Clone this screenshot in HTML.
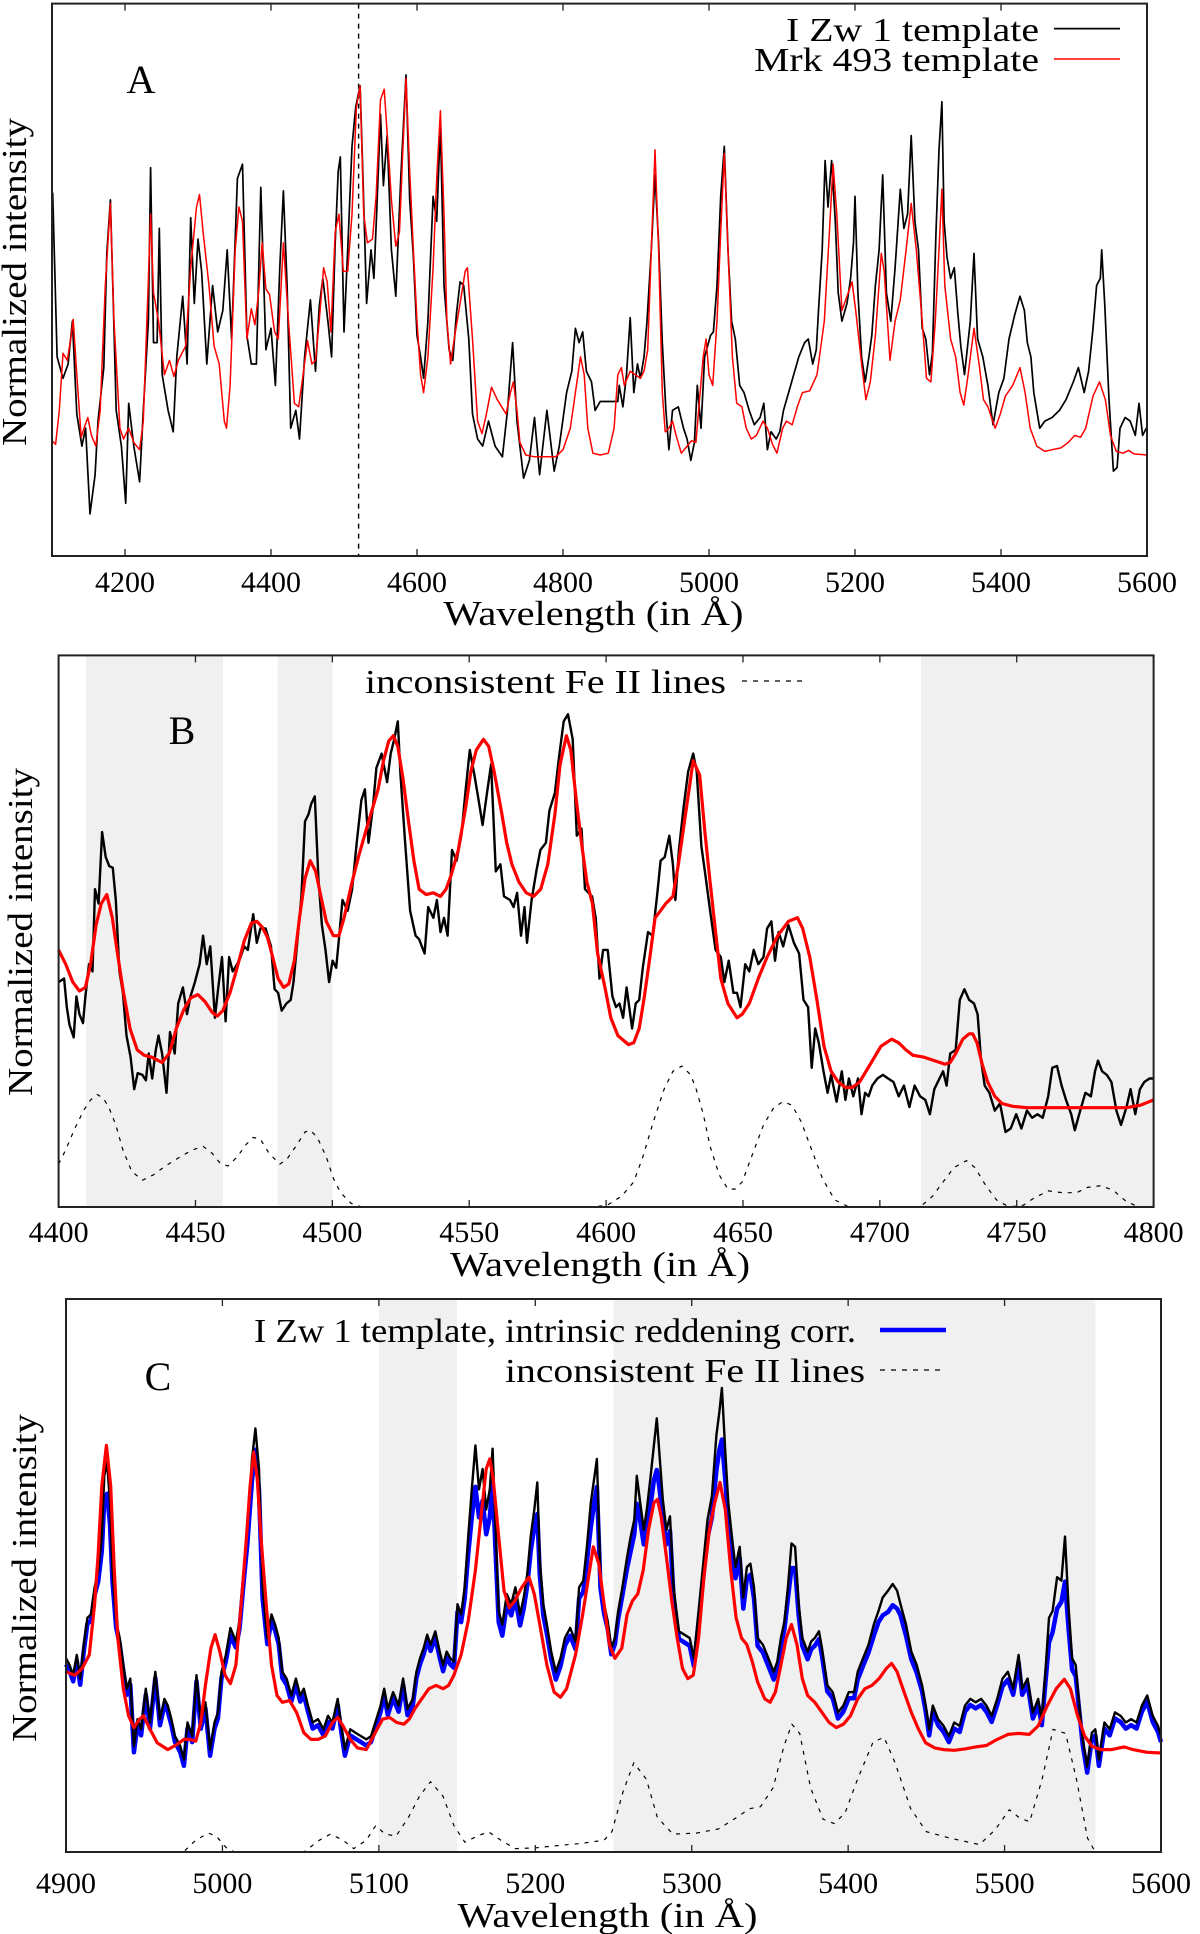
<!DOCTYPE html>
<html><head><meta charset="utf-8"><style>
html,body{margin:0;padding:0;background:#fff}
svg{display:block}
text{font-family:"Liberation Serif","DejaVu Serif",serif;fill:#000}
</style></head><body>
<svg id="fig" width="1200" height="1934" viewBox="0 0 1200 1934" xmlns="http://www.w3.org/2000/svg">
<g id="panelA"></g>
<g id="panelB"></g>
<g id="panelC"></g>
</svg>
<script>
// ---------- Panel A data ----------
const aTicks=[4200,4400,4600,4800,5000,5200,5400,5600];
const aIzwWl=[4101,4107,4115,4122,4128,4134,4141,4146,4152,4159,4163,4171,4175,4180,4184,4188,4195,4201,4205,4212,4220,4225,4232,4235,4239,4244,4247,4251,4259,4266,4271,4279,4285,4290,4295,4300,4305,4312,4320,4327,4334,4340,4346,4354,4361,4367,4373,4380,4386,4393,4400,4406,4412,4417,4422,4427,4434,4439,4446,4454,4461,4466,4471,4478,4483,4488,4492,4495,4500,4505,4511,4516,4522,4526,4531,4537,4541,4545,4550,4554,4559,4565,4571,4578,4585,4590,4595,4600,4605,4609,4615,4622,4627,4632,4637,4644,4649,4654,4659,4664,4671,4676,4683,4690,4698,4707,4717,4724,4731,4737,4746,4754,4761,4768,4778,4788,4795,4805,4812,4817,4822,4827,4832,4839,4844,4851,4875,4877,4882,4887,4892,4897,4902,4906,4911,4915,4921,4926,4931,4936,4941,4945,4950,4958,4965,4970,4975,4980,4984,4989,4994,5002,5006,5011,5016,5021,5026,5031,5036,5042,5048,5055,5062,5070,5075,5080,5085,5092,5097,5102,5109,5116,5123,5131,5136,5142,5147,5150,5155,5159,5163,5168,5173,5177,5182,5189,5194,5198,5200,5204,5209,5214,5219,5223,5228,5233,5238,5243,5249,5255,5262,5267,5272,5277,5282,5287,5292,5297,5302,5306,5311,5315,5319,5322,5326,5331,5336,5341,5345,5350,5358,5363,5368,5375,5382,5389,5397,5404,5411,5419,5426,5432,5436,5441,5445,5453,5460,5470,5480,5489,5499,5506,5514,5520,5526,5531,5536,5538,5542,5548,5554,5559,5563,5570,5577,5584,5589,5594,5599];
const aIzwFlux=[101.8,55.8,49.8,53.8,65.8,39.8,30.8,35.8,11.8,22.8,37.8,52.8,84.8,99.8,70.8,40.8,30.8,14.8,42.8,30.8,20.8,40.8,65.8,108.8,59.8,59.8,91.8,50.8,40.8,34.8,55.8,72.8,53.8,94.8,70.8,88.8,79.8,53.8,75.8,62.8,68.8,85.8,60.8,105.8,109.8,61.8,53.8,53.8,103.3,57.8,63.8,47.8,80.8,102.3,75.8,35.8,40.8,32.8,55.8,71.8,51.8,69.8,77.8,65.8,55.8,87.8,107.8,111.8,62.8,85.8,114.8,125.8,131.8,105.8,70.8,85.8,77.8,97.8,123.8,103.8,117.8,85.8,72.8,106.8,134.8,99.8,83.8,61.8,55.8,49.8,65.8,100.8,93.8,120.8,75.8,57.8,54.8,67.8,76.8,75.8,60.8,39.8,32.8,30.8,37.8,30.8,27.8,40.8,59.8,37.8,21.8,26.8,38.8,22.8,40.8,23.8,30.8,45.8,51.8,63.8,59.8,62.8,51.8,48.8,40.8,43.3,43.3,47.8,41.8,50.8,66.8,45.8,53.8,49.8,55.8,65.8,85.8,106.8,87.8,59.8,40.8,29.8,40.8,41.8,35.8,32.8,26.8,31.8,47.8,35.8,55.8,61.8,62.8,75.8,100.8,114.8,85.8,65.8,60.8,47.8,45.8,40.8,36.8,38.8,42.8,29.8,34.8,32.8,34.8,40.8,45.8,50.8,55.8,59.8,60.8,53.8,57.8,68.8,85.8,110.8,97.8,110.8,93.8,73.8,65.8,70.8,77.8,87.8,100.8,73.8,55.8,48.8,55.8,61.8,75.8,85.8,106.8,73.8,65.8,80.8,102.8,91.8,95.8,117.8,93.8,85.8,63.8,60.8,50.8,56.8,90.8,113.8,127.3,93.8,83.8,77.8,80.8,67.8,58.8,50.8,65.8,84.8,60.8,55.8,47.8,36.8,45.8,49.8,60.8,67.8,72.8,68.8,59.8,55.8,45.8,35.8,37.8,38.8,40.8,43.8,48.8,52.8,45.8,51.8,63.8,75.8,77.8,85.8,70.8,43.8,23.8,24.8,35.8,38.8,37.8,33.8,42.8,33.8,35.8];
const aMrkWl=[4100,4105,4110,4115,4121,4127,4129,4134,4140,4144,4149,4154,4160,4166,4173,4180,4185,4193,4198,4205,4212,4220,4225,4230,4235,4239,4246,4254,4261,4267,4273,4283,4290,4298,4302,4307,4315,4322,4329,4336,4339,4344,4351,4356,4361,4367,4373,4378,4383,4388,4393,4398,4405,4410,4417,4424,4432,4438,4444,4450,4456,4461,4466,4472,4477,4482,4488,4493,4499,4505,4511,4517,4522,4527,4532,4539,4544,4550,4555,4560,4565,4571,4576,4580,4585,4590,4595,4600,4605,4609,4615,4622,4627,4632,4637,4641,4646,4651,4659,4666,4669,4676,4683,4689,4695,4702,4710,4722,4728,4732,4737,4741,4749,4761,4790,4800,4810,4817,4824,4829,4834,4841,4851,4862,4870,4875,4880,4884,4892,4899,4906,4911,4916,4921,4926,4931,4936,4940,4945,4950,4955,4962,4970,4976,4982,4987,4992,4996,5000,5005,5011,5016,5021,5026,5032,5038,5045,5051,5058,5065,5074,5080,5087,5093,5101,5106,5114,5121,5128,5138,5148,5158,5165,5170,5175,5182,5189,5196,5201,5209,5215,5221,5228,5236,5240,5248,5255,5262,5270,5277,5284,5292,5298,5304,5310,5315,5319,5323,5331,5338,5344,5349,5355,5363,5370,5376,5382,5387,5392,5399,5406,5416,5426,5433,5440,5449,5460,5470,5482,5492,5501,5509,5516,5526,5535,5543,5550,5558,5567,5575,5582,5599];
const aMrkFlux=[32.3,31.3,40.8,56.8,54.8,62.8,66.3,50.8,33.3,35.8,38.8,33.8,30.8,40.8,75.8,98.8,65.8,35.8,32.8,35.8,31.8,29.8,37.8,65.8,95.8,73.8,65.8,50.8,54.8,50.3,54.8,58.8,80.8,97.8,101.3,90.8,75.8,58.8,53.8,37.8,35.8,47.8,85.8,97.8,93.8,60.8,69.3,64.8,73.8,87.8,74.8,73.3,62.8,60.8,87.8,65.8,42.8,41.8,50.8,60.3,53.8,54.8,65.8,80.8,76.8,62.8,90.8,95.8,79.8,79.8,95.8,125.8,131.8,95.8,87.8,88.8,100.8,127.8,130.8,115.8,99.8,86.8,90.8,110.8,133.8,107.8,85.8,65.8,50.8,45.8,55.8,80.8,105.8,124.8,95.8,65.8,53.8,60.8,70.8,79.8,80.8,60.8,37.8,34.3,39.8,47.3,43.8,39.8,45.8,48.8,40.8,31.8,28.3,27.8,27.8,29.8,35.8,45.8,55.8,50.8,35.8,28.8,28.3,28.8,35.8,50.8,52.8,47.8,51.8,50.8,49.8,51.8,57.8,85.8,113.8,85.8,45.8,34.8,35.8,37.8,33.8,28.8,30.8,32.3,31.8,43.8,55.8,60.8,50.8,47.8,65.8,90.8,112.8,85.8,55.8,42.8,41.8,35.8,32.8,33.8,37.8,35.8,31.3,28.8,35.8,37.8,36.8,41.8,45.8,46.3,50.8,65.8,90.8,109.8,95.8,68.8,72.8,76.8,68.8,53.8,43.8,48.8,61.8,84.8,79.8,54.8,65.8,71.8,85.8,98.8,85.8,65.8,49.8,48.8,65.8,85.8,102.8,75.8,60.8,55.8,45.8,42.3,50.8,63.8,53.8,43.8,41.8,38.8,35.8,39.8,44.8,47.8,52.8,45.8,35.8,30.8,29.3,29.8,30.3,31.8,33.8,33.3,35.8,44.8,48.8,43.8,33.8,29.3,28.8,29.6,28.6,28.3];

// ---------- Panel B data ----------
const bTicks=[4400,4450,4500,4550,4600,4650,4700,4750,4800];
const bBands=[[4410,4460],[4480,4500],[4715,4800]];
const bIzwWl=[4400,4402,4403,4404,4405.5,4406.5,4407.6,4408.9,4409.8,4411.1,4412.4,4413.3,4414.6,4415.9,4417.2,4418.5,4419.8,4420.9,4422.2,4423.5,4424.8,4426.3,4427.6,4428.9,4430.6,4431.9,4432.9,4434.2,4435.5,4436.5,4437.8,4439.4,4440.7,4442.4,4443.7,4445.4,4446.9,4448.2,4449.8,4451.5,4452.8,4454.1,4455.4,4457.1,4458.4,4459.7,4461,4462.3,4463.6,4465.2,4466.5,4467.8,4469.1,4471.1,4472.4,4473.7,4475.6,4477.6,4478.9,4480.2,4481.5,4483.2,4484.8,4485.8,4487.4,4488.7,4490,4491.3,4492.3,4493.6,4494.9,4496.2,4497.5,4498.8,4500.1,4501.4,4502.4,4503.7,4505.6,4507.2,4508.9,4510.6,4511.9,4513.2,4514.8,4516.1,4518,4520,4521.3,4522.6,4523.9,4524.9,4526.5,4528.4,4530.4,4531.7,4533.7,4535,4536.9,4538.2,4539.5,4540.8,4542.1,4543.7,4545.4,4547.1,4548.7,4550.2,4551.9,4553.2,4554.9,4556.5,4558,4559.7,4561.4,4562.7,4564.9,4566.2,4567.5,4568.9,4570.2,4571.1,4572.8,4574.5,4576,4578,4579.3,4581.3,4582.8,4584.5,4586.1,4587.8,4589.3,4591,4592.3,4593.6,4594.9,4596.2,4597.6,4598.9,4600.6,4602.3,4603.6,4604.9,4606.2,4607.5,4609.5,4610.8,4612.1,4613.4,4615.3,4617,4618.6,4619.9,4621.4,4623.1,4624.4,4625.3,4626.6,4628.3,4630,4631.8,4633.1,4634.8,4636.1,4638,4640,4641.9,4643.2,4644.8,4646.5,4647.8,4649.1,4650.8,4652.3,4653.9,4655.6,4657.5,4658.8,4660.4,4661.7,4663,4664.7,4666.6,4668.6,4670.5,4672.1,4673.8,4675.1,4676.4,4677.7,4679.4,4680.9,4682.2,4684.2,4686.1,4687.4,4688.7,4690.3,4692,4693.3,4694.6,4695.9,4697.2,4699.1,4701.1,4703,4705,4706.9,4708.8,4710.8,4712.7,4714.7,4716.6,4718.3,4719.9,4721.8,4723.1,4724.4,4725.7,4727.7,4729.2,4730.9,4732.6,4734.4,4735.7,4737,4738.3,4740,4742,4743.9,4745.9,4747.8,4749.8,4751.7,4753.7,4755.6,4757.6,4759.5,4761.5,4763,4764.7,4766.4,4768,4769.9,4771.2,4773.2,4775.1,4777.1,4778.6,4779.7,4781.2,4782.9,4784.6,4786.4,4788.1,4790.1,4791.6,4793.3,4795,4796.6,4798.5,4800];
const bIzwFlux=[63,64,56,51,47.5,59,54,51.5,59,68,66,89,85,105,98,95.5,95,86,66,60,48,42,33,37.5,37,35.5,43,36,44,48,43,32,49,43,57,61.5,54,59,63,68,76,68,73,53,62,70,52,70,66,68,70,73,72,82,74,78,78,73,61,60,55,57,58,63,76,87,108,110,113,115,92,79,72,63,69,67,75,86,83,89,102,114,117,102,112,123,127,119,127,131,136,121,103,83,76,75,71,84,81,86,77,81,76,100,97,104,117,128,121,115,107,116,124,94,96,87,86,84,88,76,84,74,86,94,100,102,111,116,126,136,138,131,104,106,89,88,87,81,64,72,72,59,56,57,53,61.5,50,57,58,67,77,76,87,97,98,104,96,86,100,112,122,127,122,101,94,83,72,70,63,69,60,60,56,68,66,72,68,70,78,80,69,77,73,79,74,71,58,56,39,50,46,38,32,37,29.5,38,30,36,31,36,26,32,31,34,36,37,36,35,31,34,28,34,31,30,26,33,36,38,34,43,44,58,61,58,57,54,41,34,32,27,29,21,22,26,22,27,25,26,25,31,39,39.5,34,30,26,21.5,27,32,31,38,41,38,37,35,27,23,28,33,26,33,35,36,36];
const bMrkWl=[4400,4402.6,4405.2,4407.6,4409.8,4411.7,4413.7,4415.6,4417.6,4419.6,4421.5,4423.5,4426.1,4428.7,4431.3,4433.9,4437.8,4440.4,4443,4445.6,4448.2,4450.9,4453.5,4456.1,4458,4460,4462.6,4465.2,4467.8,4470.4,4472.4,4474.3,4476.3,4478.2,4480.2,4482.2,4484.1,4486.1,4488,4490,4491.9,4493.9,4495.8,4497.8,4500.4,4502.4,4504.3,4506.9,4509.5,4512.1,4514.8,4516.7,4518.7,4520.6,4522.3,4523.9,4525.8,4527.8,4529.8,4531.7,4534.3,4536.9,4539.5,4541.5,4543.4,4546,4548.7,4550.6,4552.6,4555.2,4557.1,4559.1,4561.7,4563.7,4565.6,4568.2,4570.8,4573.5,4576.1,4578.7,4581.3,4583.2,4585.5,4587.1,4589.1,4591,4593,4595,4596.9,4599.7,4601.7,4604.3,4608.2,4610.1,4612.1,4614,4616,4617.9,4619.9,4621.8,4624.4,4626.4,4629,4631.8,4634.2,4636.1,4638,4640,4641.9,4644.5,4647.8,4649.7,4652.3,4655.6,4658.8,4662.7,4666.6,4669.9,4671.8,4674.4,4677,4679.6,4682.2,4684.8,4687.4,4690,4692.6,4696.5,4700.4,4704.3,4706.9,4709.5,4712.1,4716,4719.9,4723.8,4725.7,4727.7,4730.3,4732.6,4733.9,4735.5,4737.4,4739.4,4742,4744.6,4748.5,4753.7,4790,4795.2,4800];
const bMrkFlux=[72,68,63,60.5,61.5,68,79,85,87.5,81,71,61,50,44,42.5,42,40.5,43,50,55,58.5,59.5,57.5,54.5,53.5,55,60,67,74.5,79.5,80,78.5,75.5,70,64,61.5,62.5,69,81,92,97,94,87,80,76,76,81,90,98,105,112,117,125,130.5,132,129,120,108,97,89,87.5,88,87,89,93,100,112,122,128,131,129,122,111,102,96,91,88,87,89,96,110,124,132,128,114,102,91,85,71,61,53,48,45.5,46,50,59,70,81,83,85,87,96,110,125,121,105,91,77,64,57,53,54,57,64,70,76,80,81,78,70,58,45,38,35,33.5,33.5,35,40,45,47,46,44,42.5,42,41,40,40.5,43,47,48.5,48.5,46,40,35,31,29,28.2,27.8,27.8,28.5,30];
const bFeWl=[4400,4402.6,4405.9,4409.1,4411.7,4414.1,4416.3,4418.3,4420.9,4423.5,4426.7,4430.6,4434.6,4439.1,4444.3,4448.9,4452.8,4456.1,4459.3,4461.9,4465.2,4468.5,4471.1,4473.7,4476.9,4480.8,4483.5,4486.7,4490,4491.9,4494.5,4497.8,4500.4,4503,4506.9,4510.8,4595,4600.4,4605.6,4610.1,4613.4,4617.3,4621.2,4624.4,4627.7,4630.9,4632.9,4635.5,4638,4641.3,4644.5,4647.1,4649.7,4653.6,4657.5,4661.4,4664.7,4667.9,4671.2,4675.1,4679,4683.5,4688.7,4714.7,4719.2,4723.1,4727,4731.6,4734.8,4738.7,4742.6,4747.2,4752.4,4756.3,4761.5,4766.7,4771.9,4775.8,4781,4785.5,4790.1,4794.6,4800];
const bFeFlux=[12,16,22,27,30,31.5,30.5,28,23,16,10,7.5,9,11.5,14,16,17,15,12,11.5,14,17.5,19.5,19,15,12,13.5,17,21,21.5,19.5,14,8,4,1,0,0,0.5,3,7,14,24,33,38,39.5,37,33,26,17,9,5,5,7,15,23,28,29.5,28.5,24,16,8,2,0,0,3,7,11,13,11,6,2,0,0.5,2.5,4.5,4,4,5.5,6,4.5,1.5,0,0];

// ---------- Panel C data ----------
const cTicks=[4900,5000,5100,5200,5300,5400,5500,5600];
const cBands=[[5100,5150],[5250,5558]];
const cIzwWl=[4900,4902.3,4904.6,4906.9,4909.1,4911.4,4913.7,4916,4918.3,4920.6,4922.9,4924.5,4926.3,4928.1,4929.7,4932,4934.3,4936.6,4938.9,4941.1,4943.4,4945.7,4948,4951,4953.7,4957.1,4960.1,4962.9,4965.1,4967.4,4969.7,4973.1,4975.4,4977.7,4980.7,4983.4,4986.2,4989.1,4992.1,4994.9,4997.1,4999.4,5002.2,5005.1,5008.6,5010.9,5013.6,5015.9,5018.9,5021.1,5023.4,5025.7,5028.7,5031.4,5033.7,5036,5038.3,5041,5044,5047,5049.7,5052,5054.7,5057.7,5061.1,5064.6,5067.5,5070.3,5073.7,5076,5078.3,5081.7,5085.1,5088.6,5092,5095,5097.7,5101.1,5103.4,5105.7,5109.1,5112.6,5115.5,5118.3,5121.7,5124,5126.3,5128.6,5130.9,5133.1,5136.1,5138.9,5141.1,5143.4,5145.7,5148,5150.3,5152.6,5154.9,5157.1,5159.4,5161.7,5164,5166.3,5168.6,5170.9,5172.7,5174.3,5176.6,5178.9,5181.8,5184.6,5187.3,5190.3,5192.6,5194.9,5197.1,5199.4,5201.3,5202.9,5205.1,5207.4,5210.2,5213.1,5216.1,5218.9,5222.3,5225.7,5228,5230.7,5233,5235.5,5237.6,5239.4,5241.7,5244,5246.3,5248.6,5250.9,5253,5255.7,5258.7,5261,5263.3,5264.9,5267.1,5269.4,5271.3,5273.5,5275.8,5277.7,5279.3,5281.5,5283.8,5286.1,5288.4,5291.8,5295.3,5298.7,5301.4,5304.4,5307.8,5310.1,5312.9,5315.8,5317.7,5319.3,5321.5,5323.4,5325.7,5328,5330.7,5333,5335.3,5337.5,5339.8,5342.1,5345.5,5349,5352.4,5354.7,5357,5359.3,5361.5,5363.8,5366.1,5368.4,5370.7,5374.1,5376.4,5378.7,5381.4,5383.3,5386.7,5390.1,5393.5,5397,5400.4,5403.8,5406.1,5409.5,5413,5416.4,5419.4,5422.1,5425.5,5428.5,5431.3,5433.5,5437,5440.4,5443.8,5447.3,5449.6,5451.8,5454.1,5457.5,5461,5464.4,5467.8,5471.3,5474.7,5478.1,5481.5,5485,5488.4,5491.8,5495.3,5498.7,5502.1,5505.5,5509,5511.3,5514.7,5518.1,5521.5,5523.8,5526.1,5528.4,5530.7,5533.6,5536.3,5538.6,5540.9,5543.2,5545.5,5547.8,5550,5552.8,5555.8,5558,5560.3,5563.8,5567.2,5570.6,5574.1,5577.5,5580.9,5584.4,5587.8,5591.2,5594.7,5598.1,5600];
const cIzwFlux=[57.3,55.3,52.3,58.3,51.3,61.3,69.3,70.3,78.3,83.3,93.3,111.3,115.3,103.3,83.3,68.3,63.3,55.3,48.3,51.3,31.3,39.3,36.3,48.3,38.3,53.3,39.3,45.3,43.3,39.3,34.3,31.3,27.3,38.3,34.3,52.3,38.3,44.3,30.3,38.3,41.3,53.3,58.3,66.3,62.3,68.3,83.3,95.3,116.3,125.3,113.3,78.3,63.3,70.3,67.3,63.3,53.3,51.3,46.3,51.3,46.3,48.3,43.3,38.3,39.3,36.3,40.3,38.3,45.3,37.3,30.3,36.3,35.3,34.3,33.3,34.3,38.3,43.3,48.3,42.3,47.3,43.3,51.3,42.3,45.3,53.3,57.3,60.3,64.3,61.3,65.3,59.3,55.3,59.3,57.3,56.3,73.3,70.3,78.3,93.3,107.3,120.3,107.3,113.3,101.3,107.3,119.3,99.3,71.3,67.3,76.3,73.3,78.3,70.3,75.3,82.3,93.3,101.3,109.3,86.3,73.3,67.3,59.3,53.3,57.3,63.3,66.3,62.3,78.3,80.3,90.3,103.3,110.3,116.3,81.3,73.3,68.3,60.3,63.3,71.3,78.3,87.3,93.3,98.3,111.3,103.3,95.3,101.3,110.3,120.3,128.3,118.3,104.3,95.3,99.3,78.3,65.3,64.3,63.3,57.3,71.3,87.3,98.3,105.3,123.3,130.3,137.3,118.3,103.3,93.3,84.3,90.3,75.3,84.3,85.3,78.3,63.3,61.3,57.3,53.3,56.3,63.3,68.3,78.3,91.3,90.3,73.3,63.3,59.3,62.3,63.3,65.3,60.3,49.3,47.3,41.3,43.3,47.3,47.3,53.3,57.3,61.3,67.3,71.3,75.3,77.3,79.3,77.3,73.3,67.3,59.3,55.3,49.3,43.3,36.3,43.3,39.3,37.3,34.3,38.3,37.3,43.3,45.3,44.3,45.3,43.3,40.3,45.3,51.3,53.3,48.3,58.3,48.3,51.3,41.3,45.3,39.3,53.3,69.3,71.3,81.3,80.3,93.3,72.3,57.3,55.3,43.3,33.3,25.3,35.3,36.3,27.3,38.3,36.3,41.3,40.3,38.3,39.3,38.3,43.3,46.3,40.3,37.3,34.3];
const cCorrFlux=[55.5,53.5,50.5,56.5,49.5,59.5,67.5,68.5,76,80,89,104,106,97,80,66.5,61.5,53.5,46.5,49.5,29.5,37.5,34.5,46.5,36.5,51.5,37.5,43.5,41.5,37.5,32.5,29.5,25.5,36.5,32.5,50.5,36.5,42.5,28.5,36.5,39.5,51.5,56.5,64,60.5,66,80,91,110,119,107,75,61.5,68.5,65.5,61.5,51.5,49.5,44.5,49.5,44.5,46.5,41.5,36.5,37.5,34.5,38.5,36.5,43.5,35.5,28.5,34.5,33.5,32.5,31.5,32.5,36.5,41.5,46.5,40.5,45.5,41.5,49.5,40.5,43.5,51.5,55.5,58.5,62.5,59.5,63.5,57.5,53.5,57.5,55.5,54.5,71,68,75,88,99,108,99,104,94,99,110,92,68,64,73,70,75,67,72,79,89,96,100,82,70,64.5,57,51,55,61,64,60,75,77,86,96,103,108,78,70.5,66,58.5,61.5,69,76,84,89,94,103,98,91,95,102,110,113,108,99,91,95,75,63,62,61,55,68,83,93,99,113,119,122,110,98,89,81,87,72,81,82,75,61,59,55,51,54,61,66,75,84,84,70,61,57,60,61,63,58,47.5,45.5,39.5,41.5,45.5,45.5,51,55,59,64,68,70,71,73,72,70,64,57,53,47.5,41.5,34.5,41.5,37.5,35.5,32.5,36.5,35.5,41.5,43.5,42.5,43.5,41.5,38.5,43.5,49,51,46.5,56,46.5,49.5,39.5,43.5,37.5,50,62,65,72,74,80,66,54,52,41.5,31.5,23.5,33.5,34.5,25.5,36.5,34.5,39.5,38.5,36.5,37.5,36.5,41.5,44.5,38.5,35.5,32.5];
const cMrkWl=[4900,4905.7,4910.3,4914.9,4918.3,4920.6,4922.9,4925.8,4928.6,4930.9,4933.1,4936.6,4940,4943.4,4946.9,4949.6,4953.7,4958.3,4965.1,4970.9,4975.4,4978.9,4983,4986.2,4989.1,4992.6,4995.3,4998.3,5001.7,5005.1,5008.6,5012,5015.4,5017.7,5020,5022.3,5024.6,5028,5031.4,5034.9,5038.3,5042.9,5047.4,5052,5056.6,5061.1,5065.7,5070.3,5073.7,5077.1,5081.7,5086.3,5092,5095.4,5098.9,5102.3,5106.9,5111.4,5116,5119.4,5122.9,5127.4,5132,5136.6,5141.1,5144.6,5148,5152.6,5157.1,5161.7,5165.1,5168.6,5170.9,5173.1,5176.6,5180,5183.4,5186.9,5191.4,5196,5199.4,5202.9,5207.4,5212,5216.1,5220,5225.7,5230.3,5233.7,5237.1,5240.6,5244,5247.4,5250.9,5255.3,5258.7,5262.1,5265.5,5269,5272.4,5275.8,5278.1,5280.4,5283.8,5287.3,5290.7,5294.1,5297.5,5301,5304.4,5307.8,5311.3,5314.7,5318.1,5321.5,5325,5328.4,5331.8,5335.3,5338.7,5342.1,5346.7,5350.1,5353.5,5357,5360.4,5363.8,5367.3,5370.7,5374.1,5378.7,5383.3,5387.8,5392.4,5397,5401.5,5406.1,5410.7,5415.2,5419.8,5424.4,5427.8,5431.3,5435.8,5440.4,5445,5449.5,5455.3,5461,5467.8,5474.7,5481.5,5488.4,5495.3,5502.1,5509,5515.8,5521.5,5527.3,5533,5538.2,5542.1,5546.7,5551.2,5555.8,5561.5,5568.4,5576.4,5582.1,5591.2,5600];
const cMrkFlux=[53.3,52.3,54.3,58.3,73.3,88.3,108.3,120.3,108.3,83.3,63.3,48.3,40.3,36.8,39.3,40.3,36.3,32.3,30.3,31.8,33.3,33.3,32.8,38.3,49.3,60.3,64.3,59.3,52.3,49.8,55.3,73.3,93.3,108.3,118.3,110.3,93.3,73.3,55.3,46.3,44.3,44.8,41.3,35.3,33.3,33.3,34.3,38.3,39.8,37.3,33.3,30.8,30.3,33.3,36.3,39.3,39.8,38.3,37.8,39.3,42.3,45.3,48.3,49.3,48.3,49.3,52.3,58.3,68.3,83.3,98.3,113.3,116.3,110.3,93.3,77.3,72.3,74.3,78.3,81.3,76.3,67.3,55.3,47.3,45.8,48.3,58.3,70.3,80.3,90.3,85.3,73.3,61.3,57.3,60.3,70.3,74.3,76.3,83.3,95.3,103.3,104.3,99.3,87.3,74.3,63.3,54.3,51.3,52.3,63.3,81.3,95.3,103.3,109.3,101.3,83.3,69.3,63.3,61.3,56.3,50.3,45.3,44.3,47.3,55.3,63.3,67.3,61.3,51.3,46.3,44.3,41.3,38.3,36.8,37.8,40.3,45.3,48.3,49.3,51.3,54.3,55.8,53.3,47.3,41.3,36.3,32.3,30.8,30.3,30.1,30.5,31.1,31.5,33.3,34.8,35.1,34.8,37.3,43.3,48.3,51.1,48.3,40.3,34.3,31.3,30.3,30.3,31.1,30.3,29.5,29.3];
const cFeWl=[4976,4983,4991,4996,5003,5008,5052,5062,5069,5077,5084,5092,5098,5104,5111,5119,5126,5133,5141,5148,5155,5163,5170,5178,5187,5200,5214,5229,5244,5249,5256,5263,5271,5278,5288,5303,5317,5327,5337,5344,5352,5359,5364,5369,5376,5384,5391,5398,5406,5416,5423,5430,5440,5450,5465,5477,5484,5494,5503,5509,5516,5524,5531,5539,5546,5553,5558];
const cFeFlux=[0.4,3.5,5.6,4.7,1,0,0,3.5,5.3,3.5,1,3.5,7.8,5.3,4.7,10.3,16.5,20.8,16.5,7.8,2.9,4.7,6,3.5,1,1.2,1.9,2.5,3.5,6,17.7,26.4,21.5,10.3,5.3,5.6,6.8,9.7,12.8,13.4,19,31.4,37.8,35.1,19,9.7,8.4,11.5,21.5,32.6,33.9,26.4,12.8,6,4.1,2.9,2.2,6.6,12.5,10.3,8.9,21.5,36.3,35.1,21.5,4.1,0];

// ---------- drawing ----------
const NS='http://www.w3.org/2000/svg';
function mk(parent,tag,attrs){const e=document.createElementNS(NS,tag);for(const k in attrs)e.setAttribute(k,attrs[k]);parent.appendChild(e);return e;}
function scaleX(p,w){return p.left+(w-p.x0)/(p.x1-p.x0)*(p.right-p.left);}
function scaleY(p,v){return p.bottom-(v/p.ymax)*(p.bottom-p.top);}
function drawLine(p,g,wl,fl,style,name){
  let d='';
  for(let i=0;i<wl.length;i++){d+=(i?'L':'M')+scaleX(p,wl[i]).toFixed(1)+' '+scaleY(p,fl[i]).toFixed(1);}
  const e=mk(g,'path',Object.assign({d:d,fill:'none','stroke-linejoin':'round'},style));
  
  
  return e;
}
function drawBands(p,g,bands){
  bands.forEach(b=>{
    const r=mk(g,'rect',{x:scaleX(p,b[0]),y:p.top,width:scaleX(p,b[1])-scaleX(p,b[0]),height:p.bottom-p.top,fill:'#f0f0f0'});
    
    
  });
}
function drawAxes(p,g,ticks,labelY,titleY,titleLen,ylabX,ylabY){
  const f=mk(g,'rect',{x:p.left,y:p.top,width:p.right-p.left,height:p.bottom-p.top,fill:'none',stroke:'#222','stroke-width':2});
  
  
  ticks.forEach(t=>{
    const x=scaleX(p,t);
    const tk=mk(g,'path',{d:`M${x} ${p.bottom}V${p.bottom-7}M${x} ${p.top}V${p.top+7}`,stroke:'#222','stroke-width':1.3});
    
    
    const tl=mk(g,'text',{x:x,y:labelY,'text-anchor':'middle','font-size':30});
    tl.textContent=t;
    
    
  });
  const xt=mk(g,'text',{x:(p.left+p.right)/2-6,y:titleY,'text-anchor':'middle','font-size':35,textLength:titleLen,lengthAdjust:'spacingAndGlyphs'});
  xt.textContent='Wavelength (in Å)';
  
  
  const yt=mk(g,'text',{x:0,y:0,'text-anchor':'middle','font-size':35,textLength:328,lengthAdjust:'spacingAndGlyphs',transform:`translate(${ylabX},${ylabY}) rotate(-90)`});
  yt.textContent='Normalized intensity';
  
  
}
function txt(g,x,y,s,size,anchor,name,len){
  const a={x:x,y:y,'font-size':size,'text-anchor':anchor||'start'};
  if(len){a.textLength=len;a.lengthAdjust='spacingAndGlyphs';}
  const t=mk(g,'text',a);t.textContent=s;
  
  
  return t;
}
function seg(g,x1,x2,y,style,name){
  const l=mk(g,'line',Object.assign({x1:x1,x2:x2,y1:y,y2:y},style));
  
  
}

// Panel A
const pA={left:52,right:1147,top:3.6,bottom:556,x0:4100,x1:5600,ymax:154.8};
const gA=document.getElementById('panelA');
const vA=mk(gA,'line',{x1:scaleX(pA,4520),x2:scaleX(pA,4520),y1:pA.top,y2:pA.bottom,stroke:'#000','stroke-width':1.4,'stroke-dasharray':'5,5'});


drawLine(pA,gA,aIzwWl,aIzwFlux,{stroke:'#000','stroke-width':1.7},'izw1-template-line');
drawLine(pA,gA,aMrkWl,aMrkFlux,{stroke:'#f00','stroke-width':1.5},'mrk493-template-line');
drawAxes(pA,gA,aTicks,592,625,300,26,282);
txt(gA,141,93,'A',40,'middle','panel-label-a');
txt(gA,1039,41,'I Zw 1 template',34,'end','legend-izw1-label',253);
txt(gA,1039,71,'Mrk 493 template',34,'end','legend-mrk493-label',285);
seg(gA,1054,1120,28.6,{stroke:'#000','stroke-width':1.7},'legend-izw1-swatch');
seg(gA,1054,1120,59,{stroke:'#f00','stroke-width':1.5},'legend-mrk493-swatch');

// Panel B
const pB={left:58.6,right:1153.6,top:655.4,bottom:1207,x0:4400,x1:4800,ymax:154.5};
const gB=document.getElementById('panelB');
drawBands(pB,gB,bBands);
drawLine(pB,gB,bFeWl,bFeFlux,{stroke:'#000','stroke-width':1.2,'stroke-dasharray':'4,6'},'inconsistent-feii-line');
drawLine(pB,gB,bIzwWl,bIzwFlux,{stroke:'#000','stroke-width':2.4},'izw1-template-line');
drawLine(pB,gB,bMrkWl,bMrkFlux,{stroke:'#f00','stroke-width':3.2},'mrk493-template-line');
drawAxes(pB,gB,bTicks,1242,1276,300,32,932);
txt(gB,182,744,'B',40,'middle','panel-label-b');
txt(gB,365,693,'inconsistent Fe II lines',34,'start','legend-feii-label',361);
seg(gB,742,806,681,{stroke:'#000','stroke-width':1.2,'stroke-dasharray':'5,6'},'legend-feii-swatch');

// Panel C
const pC={left:66,right:1161,top:1299,bottom:1852,x0:4900,x1:5600,ymax:163.6};
const gC=document.getElementById('panelC');
drawBands(pC,gC,cBands);
drawLine(pC,gC,cFeWl,cFeFlux,{stroke:'#000','stroke-width':1.2,'stroke-dasharray':'4,6'},'inconsistent-feii-line');
drawLine(pC,gC,cIzwWl,cCorrFlux,{stroke:'#00f','stroke-width':4.5},'izw1-reddening-corrected-line');
drawLine(pC,gC,cIzwWl,cIzwFlux,{stroke:'#000','stroke-width':2.4},'izw1-template-line');
drawLine(pC,gC,cMrkWl,cMrkFlux,{stroke:'#f00','stroke-width':3.2},'mrk493-template-line');
drawAxes(pC,gC,cTicks,1893,1927,300,36,1578);
txt(gC,158,1390,'C',40,'middle','panel-label-c');
txt(gC,254,1342,'I Zw 1 template, intrinsic reddening corr.',34,'start','legend-corrected-label',602);
txt(gC,505,1382,'inconsistent Fe II lines',34,'start','legend-feii-label',360);
seg(gC,880,946,1330,{stroke:'#00f','stroke-width':4.5},'legend-corrected-swatch');
seg(gC,880,946,1370,{stroke:'#000','stroke-width':1.2,'stroke-dasharray':'5,6'},'legend-feii-swatch');
</script>
</body></html>
